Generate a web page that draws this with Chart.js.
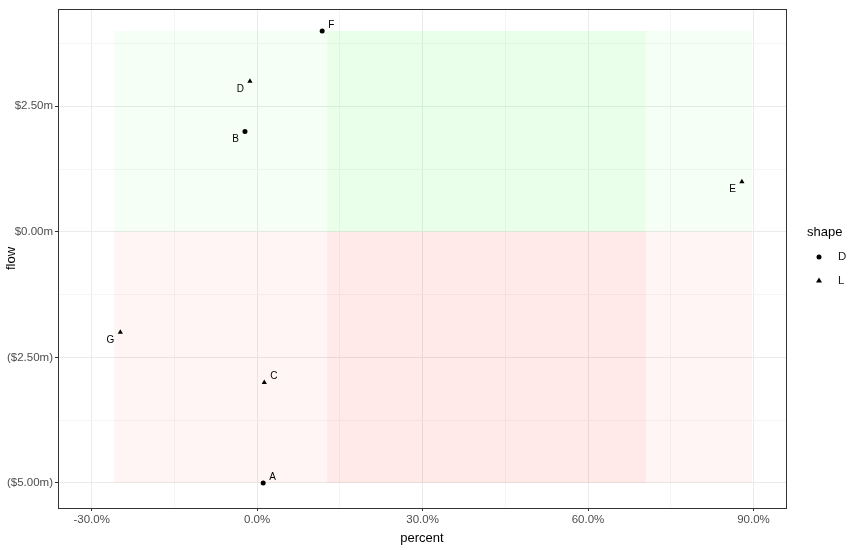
<!DOCTYPE html>
<html><head><meta charset="utf-8">
<script src="https://cdn.jsdelivr.net/npm/chart.js@4"></script>
<style>html,body{margin:0;padding:0;background:#fff}#w{width:862px;height:550px}</style>
</head><body><div id="w"><canvas id="c" width="862" height="550"></canvas></div>
<script>
const labels = ["A","B","C","D","E","F","G"];
const percent = [1.1, -2.2, 1.3, -1.3, 87.9, 11.8, -24.8];
const flow = [-5.0, 2.0, -3.0, 3.0, 1.0, 4.0, -2.0];
const shape = ["D","D","L","L","L","D","L"];
const labelSide = [1, -1, 1, -1, -1, 1, -1];
const xTicks = [-30, 0, 30, 60, 90];
const yTicks = [-5, -2.5, 0, 2.5];
const rectOuter = [-25.9, 89.7];
const rectInner = [12.7, 70.5];
const rectTop = 4.0, rectBottom = -5.0;

function fmtY(v){const s='$'+Math.abs(v).toFixed(2)+'m';return v<0?'('+s+')':s;}
const font = "'Liberation Sans', Arial, sans-serif";

const decor = {
  id:'decor',
  beforeDatasetsDraw(ch){
    const {ctx,scales:{x,y}} = ch;
    const r=(x0,x1,y0,y1,c)=>{ctx.fillStyle=c;ctx.fillRect(x.getPixelForValue(x0),y.getPixelForValue(y1),x.getPixelForValue(x1)-x.getPixelForValue(x0),y.getPixelForValue(y0)-y.getPixelForValue(y1));};
    r(rectOuter[0],rectOuter[1],0,rectTop,'rgba(0,255,0,0.04)');
    r(rectInner[0],rectInner[1],0,rectTop,'rgba(0,255,0,0.05)');
    r(rectOuter[0],rectOuter[1],rectBottom,0,'rgba(255,0,0,0.04)');
    r(rectInner[0],rectInner[1],rectBottom,0,'rgba(255,0,0,0.05)');
  },
  afterDatasetsDraw(ch){
    const {ctx,chartArea:a,scales:{x,y}} = ch;
    ctx.save();
    ctx.font = "10px "+font; ctx.fillStyle='#000'; ctx.textBaseline='middle';
    labels.forEach((l,i)=>{
      const px=x.getPixelForValue(percent[i]), py=y.getPixelForValue(flow[i]);
      if(labelSide[i]>0){ctx.textAlign='left';ctx.fillText(l,px+6,py-6);}
      else{ctx.textAlign='right';ctx.fillText(l,px-6,py+8);}
    });
    ctx.strokeStyle='#333';ctx.lineWidth=1;
    ctx.strokeRect(Math.round(a.left)+0.5,Math.round(a.top)+0.5,Math.round(a.right-a.left),Math.round(a.bottom-a.top));
    // legend
    ctx.textAlign='left';ctx.font="13px "+font;ctx.fillStyle='#000';
    ctx.fillText('shape',807,232);
    ctx.font="11.5px "+font;ctx.fillStyle='#1a1a1a';
    ctx.fillText('D',838,257);ctx.fillText('L',838,281);
    ctx.fillStyle='#000';
    ctx.beginPath();ctx.arc(819,257,2.5,0,Math.PI*2);ctx.fill();
    ctx.beginPath();ctx.moveTo(819,277.5);ctx.lineTo(822,282.5);ctx.lineTo(816,282.5);ctx.closePath();ctx.fill();
    ctx.restore();
  }
};

new Chart(document.getElementById('c'),{
  type:'scatter',
  data:{datasets:[{
    data: percent.map((p,i)=>({x:p,y:flow[i]})),
    pointStyle: shape.map(s=>s==='D'?'circle':'triangle'),
    pointRadius: shape.map(s=>s==='D'?2.5:3),
    backgroundColor:'#000',borderColor:'#000',borderWidth:0
  }]},
  options:{
    responsive:false,animation:false,
    layout:{padding:{left:0,right:76,top:7,bottom:0}},
    plugins:{legend:{display:false},tooltip:{enabled:false}},
    scales:{
      x:{type:'linear',min:-36.1,max:95.9,
        afterBuildTicks(s){s.ticks=[-30,-15,0,15,30,45,60,75,90].map(v=>({value:v}));},
        afterFit(s){s.height=42;},
        grid:{color:c=>xTicks.includes(c.tick&&c.tick.value)?'#ebebeb':'#f5f5f5',drawTicks:true,tickLength:3,tickColor:c=>xTicks.includes(c.tick&&c.tick.value)?'#333':'rgba(0,0,0,0)'},
        border:{display:false},
        ticks:{autoSkip:false,maxRotation:0,padding:2,color:'#4d4d4d',font:{family:font,size:11.5},
          callback:v=>xTicks.includes(v)?v.toFixed(1)+'%':''},
        title:{display:true,text:'percent',color:'#000',font:{family:font,size:13},padding:{top:0}}
      },
      y:{type:'linear',min:-5.5,max:4.44,
        afterBuildTicks(s){s.ticks=[-5,-3.75,-2.5,-1.25,0,1.25,2.5,3.75].map(v=>({value:v}));},
        afterFit(s){s.width=58;},
        grid:{color:c=>yTicks.includes(c.tick&&c.tick.value)?'#ebebeb':'#f5f5f5',drawTicks:true,tickLength:3,tickColor:c=>yTicks.includes(c.tick&&c.tick.value)?'#333':'rgba(0,0,0,0)'},
        border:{display:false},
        ticks:{autoSkip:false,padding:2,color:'#4d4d4d',font:{family:font,size:11.5},
          callback:v=>yTicks.includes(v)?fmtY(v):''},
        title:{display:true,text:'flow',color:'#000',font:{family:font,size:13},padding:{bottom:0}}
      }
    }
  },
  plugins:[decor]
});
</script></body></html>
